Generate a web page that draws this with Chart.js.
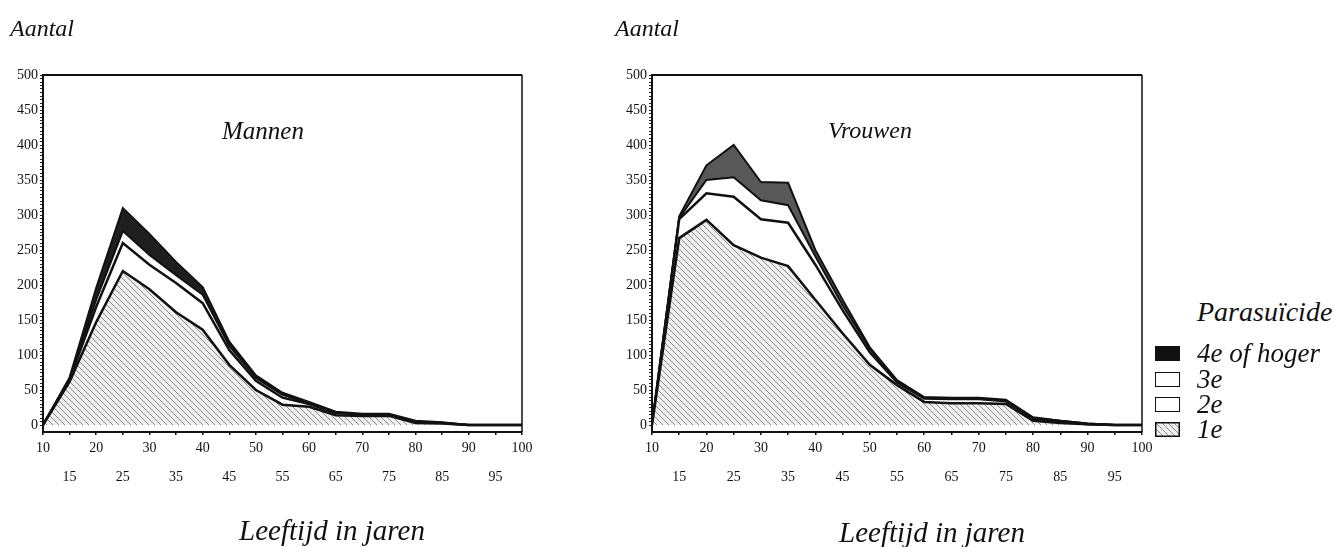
<!DOCTYPE html>
<html>
<head>
<meta charset="utf-8">
<script src="https://cdn.jsdelivr.net/npm/chart.js@4.4.0/dist/chart.umd.min.js"></script>
<style>
body{margin:0;background:#fff;width:1335px;height:547px;position:relative;overflow:hidden;font-family:"Liberation Serif",serif;color:#111}
canvas{position:absolute;top:0}
.t{position:absolute;font-style:italic;white-space:nowrap;line-height:1}
.c{transform:translateX(-50%)}
.sw{position:absolute;width:25px;height:15px;box-sizing:border-box;border:1.5px solid #111}
</style>
</head>
<body>
<canvas id="men" width="560" height="547" style="left:0"></canvas>
<canvas id="women" width="580" height="547" style="left:580px"></canvas>

<div class="t" style="left:10px;top:16px;font-size:24px">Aantal</div>
<div class="t" style="left:615px;top:16px;font-size:24px">Aantal</div>
<div class="t c" style="left:263px;top:118px;font-size:25px">Mannen</div>
<div class="t c" style="left:870px;top:118px;font-size:24px">Vrouwen</div>
<div class="t c" style="left:332px;top:516px;font-size:29px">Leeftijd in jaren</div>
<div class="t c" style="left:932px;top:518px;font-size:29px">Leeftijd in jaren</div>
<div class="t" style="left:1197px;top:298px;font-size:28px">Parasuïcide</div>
<div id="legend"></div>

<script>
// leeftijd (x) en y-as labels
let ages = [10,15,20,25,30,35,40,45,50,55,60,65,70,75,80,85,90,95,100]
let yTicks = [0,50,100,150,200,250,300,350,400,450,500]
let seriesNames = ["1e","2e","3e","4e of hoger"]

// mannen, per laag (gestapeld)
let menFirst  = [0,62,147,220,194,161,136,86,50,29,26,14,13,13,3,2,0,0,0]
let menSecond = [0,3,22,40,35,42,38,21,13,10,4,3,2,2,1,1,0,0,0]
let menThird  = [0,1,10,17,14,11,12,6,4,4,1,1,0,0,1,0,0,0,0]
let menFourth = [0,2,17,33,30,19,11,6,4,3,2,1,1,1,1,1,0,0,0]

// vrouwen
let womenFirst  = [0,267,293,257,239,227,179,131,86,57,33,31,31,30,6,3,1,0,0]
let womenSecond = [0,27,38,69,55,62,50,33,18,4,5,6,6,4,3,2,0,0,0]
let womenThird  = [0,2,19,28,27,25,12,7,5,2,1,1,1,1,1,1,1,0,0]
let womenFourth = [0,2,21,46,26,32,9,8,2,1,1,1,1,1,1,0,0,0,0]

function hatch(){
let c = document.createElement("canvas")
c.width=6
c.height=6
let g = c.getContext("2d")
g.fillStyle="#efefef"
g.fillRect(0,0,6,6)
g.strokeStyle="#8c8c8c"
g.lineWidth=1
g.beginPath()
g.moveTo(0,0);g.lineTo(6,6)
g.moveTo(-1,5);g.lineTo(1,7)
g.moveTo(5,-1);g.lineTo(7,1)
g.stroke()
return g.createPattern(c,"repeat")
}

// kader boven en rechts
let frame = {
id:"frame",
afterDatasetsDraw(chart){
let a = chart.chartArea
let ctx = chart.ctx
ctx.save()
ctx.strokeStyle="#111"
ctx.lineWidth=2
ctx.beginPath()
ctx.moveTo(a.left,a.top)
ctx.lineTo(a.right,a.top)
ctx.stroke()
ctx.lineWidth=1.5
ctx.beginPath()
ctx.moveTo(a.right,a.top)
ctx.lineTo(a.right,a.bottom)
ctx.stroke()
ctx.restore()
}
}

let minor = []
for(let v=0;v<=500;v+=5) minor.push(v)

function makeChart(id, layers, topColor, leftW, rightPad){
let fam = "'Liberation Serif', serif"
return new Chart(document.getElementById(id),{
type:"line",
data:{
labels:ages,
datasets:[
{label:seriesNames[0],data:layers[0],fill:"origin",backgroundColor:hatch(),borderColor:"#111",borderWidth:2.5},
{label:seriesNames[1],data:layers[1],fill:"-1",backgroundColor:"#fff",borderColor:"#111",borderWidth:2.5},
{label:seriesNames[2],data:layers[2],fill:"-1",backgroundColor:"#fff",borderColor:"#111",borderWidth:2},
{label:seriesNames[3],data:layers[3],fill:"-1",backgroundColor:topColor,borderColor:"#111",borderWidth:2}
]
},
options:{
responsive:false,
animation:false,
layout:{padding:{top:75,right:rightPad,left:0,bottom:0}},
elements:{point:{radius:0},line:{tension:0}},
plugins:{legend:{display:false},tooltip:{enabled:false}},
scales:{
x:{
offset:false,
grid:{drawOnChartArea:false,tickLength:3,color:"#111",lineWidth:1.5},
border:{color:"#111",width:2},
ticks:{
autoSkip:false,maxRotation:0,padding:-1,color:"#111",
font:{family:fam,size:14,lineHeight:"29px"},
callback:function(v,i){
let a = ages[i]
return a%10==0 ? String(a) : ["",String(a)]
}
},
afterFit:s=>{s.height=115}
},
y:{
stacked:true,
min:-10,max:500,
afterBuildTicks:s=>{s.ticks = minor.map(v=>({value:v}))},
grid:{drawOnChartArea:false,tickLength:3,color:"#222",lineWidth:1},
border:{color:"#111",width:2},
ticks:{
autoSkip:false,padding:2,color:"#111",font:{family:fam,size:14},
callback:v=> yTicks.includes(v) ? String(v) : ""
},
afterFit:s=>{s.width=leftW}
}
}
},
plugins:[frame]
})
}

makeChart("men",[menFirst,menSecond,menThird,menFourth],"#1e1e1e",43,38)
makeChart("women",[womenFirst,womenSecond,womenThird,womenFourth],"#585858",72,18)

// legenda
let legend = document.getElementById("legend")
let rowsY = [353,379,404,429]
let fills = ["#111","#fff","#fff","hatch"]
seriesNames.slice().reverse().forEach((name,i)=>{
let y = rowsY[i]
let sw
if(fills[i]=="hatch"){
sw = document.createElement("canvas")
sw.width=25
sw.height=15
let g = sw.getContext("2d")
g.fillStyle=hatch()
g.fillRect(0,0,25,15)
g.strokeStyle="#111"
g.lineWidth=1.5
g.strokeRect(0.75,0.75,23.5,13.5)
sw.style.position="absolute"
}else{
sw = document.createElement("div")
sw.className="sw"
sw.style.background=fills[i]
}
sw.style.left="1155px"
sw.style.top=(y-7)+"px"
legend.appendChild(sw)
let t = document.createElement("div")
t.className="t"
t.style.left="1197px"
t.style.top=(y-13)+"px"
t.style.fontSize="27px"
t.innerText=name
legend.appendChild(t)
})
</script>
</body>
</html>
